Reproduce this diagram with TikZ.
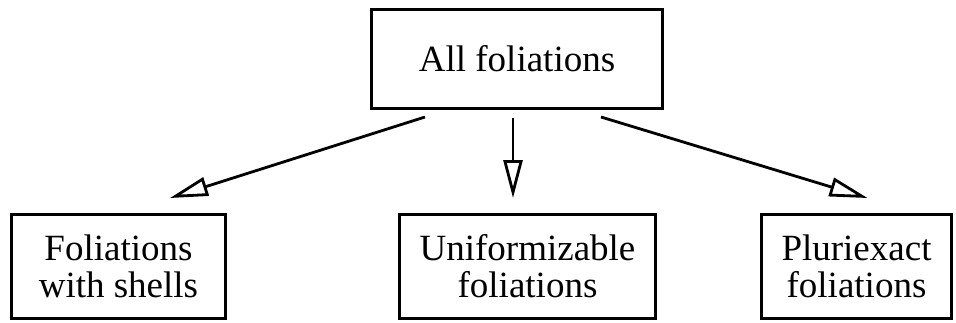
\documentclass[tikz,border=0pt]{standalone}
\usepackage{fontspec}
\setmainfont{Liberation Serif}
\usetikzlibrary{arrows.meta, positioning}

\begin{document}
\begin{tikzpicture}[
  x=0.5pt, y=-0.5pt,
  box/.style={draw, line width=1.5pt, minimum height=52pt, inner sep=0pt, align=center, font=\fontsize{18.5}{18.5}\selectfont},
  arrow/.style={-{Triangle[open, length=19pt, width=9.5pt]}, line width=1.4pt}
]
\useasboundingbox (0,0) rectangle (956,322);

% Top box
\node[box, minimum width=145.5pt, minimum height=49.5pt] (all) at (517,59) {All foliations};

% Bottom row
\node[box, minimum width=107pt] (shells) at (118.5,266.5) {Foliations\\with shells};
\node[box, minimum width=128pt, right=85.5pt of shells] (unif) {Uniformizable\\foliations};
\node[box, minimum width=95pt, right=51.5pt of unif] (plur) {Pluriexact\\foliations};

% Arrows from the top box
\draw[arrow] ([xshift=-46pt, yshift=-3.5pt]all.south) -- ([xshift=25.75pt, yshift=7.5pt]shells.north);
\draw[arrow] ([xshift=-2pt, yshift=-4pt]all.south) -- ([xshift=-2pt, yshift=7.5pt]all.south |- unif.north);
\draw[arrow] ([xshift=42pt, yshift=-3.5pt]all.south) -- ([xshift=5.5pt, yshift=7.5pt]plur.north);

\end{tikzpicture}
\end{document}
